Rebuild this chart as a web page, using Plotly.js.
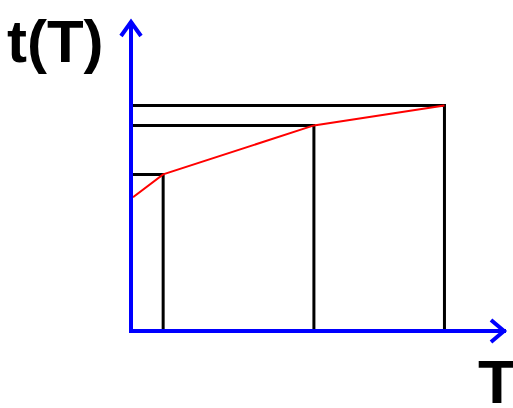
<!DOCTYPE html>
<html>
<head>
<meta charset="utf-8">
<script src="https://cdn.plot.ly/plotly-3.0.1.min.js"></script>
<style>
  html, body { margin: 0; padding: 0; background: #ffffff; }
  #chart { width: 513px; height: 408px; }
</style>
</head>
<body>
<div id="chart"></div>
<script>
// ---- data (arbitrary units) ----
const T_values = [0.97, 5.82, 10.02];     // T positions of the three drop lines
const t_values = [5.02, 6.61, 7.26];      // t(T) at those positions
const T_start = 0;                         // red curve starts on the t axis
const t_start = 4.28;                      // t(T) at T = 0
const axisLabelY = "t(T)";
const axisLabelX = "T";

// ---- figure geometry ----
const W = 513, H = 408;
const M = { l: 133, r: 7, t: 21, b: 79 };
const plotW = W - M.l - M.r, plotH = H - M.t - M.b;
const px = x => (x - M.l) / plotW;      // pixel -> paper x
const py = y => (H - M.b - y) / plotH;  // pixel -> paper y

const traces = [];
// black drop lines: from the t axis across to the point, then down to the T axis
for (let i = 0; i < T_values.length; i++) {
  traces.push({
    type: 'scatter', mode: 'lines',
    x: [0, T_values[i], T_values[i]],
    y: [t_values[i], t_values[i], 0],
    line: { color: '#000000', width: 3 },
    hoverinfo: 'skip', showlegend: false
  });
}
// red curve
traces.push({
  type: 'scatter', mode: 'lines',
  x: [T_start].concat(T_values),
  y: [t_start].concat(t_values),
  line: { color: '#ff0000', width: 2 },
  hoverinfo: 'skip', showlegend: false
});

const chevron = pts => ({
  type: 'path', xref: 'paper', yref: 'paper',
  path: 'M' + pts.map(p => px(p[0]) + ',' + py(p[1])).join(' L'),
  line: { color: '#0000ff', width: 4 },
  layer: 'above'
});

const layout = {
  width: W, height: H,
  margin: M,
  paper_bgcolor: '#ffffff', plot_bgcolor: '#ffffff',
  showlegend: false,
  xaxis: {
    range: [0, 12], showgrid: false, zeroline: false,
    showticklabels: false, ticks: '',
    showline: true, linecolor: '#0000ff', linewidth: 4, fixedrange: true
  },
  yaxis: {
    range: [0, 10], showgrid: false, zeroline: false,
    showticklabels: false, ticks: '',
    showline: true, linecolor: '#0000ff', linewidth: 4, fixedrange: true
  },
  shapes: [
    chevron([[121, 36], [131, 22], [141, 36]]),
    chevron([[491, 320], [504, 331], [491, 342]])
  ],
  annotations: [
    {
      text: axisLabelY, showarrow: false,
      xref: 'paper', yref: 'paper', x: px(55), y: py(41.2),
      xanchor: 'center', yanchor: 'middle',
      font: { family: 'Liberation Sans, Arial, sans-serif', size: 60, color: '#000000', weight: 'bold' }
    },
    {
      text: axisLabelX, showarrow: false,
      xref: 'paper', yref: 'paper', x: px(496.5), y: py(381.5),
      xanchor: 'center', yanchor: 'middle',
      font: { family: 'Liberation Sans, Arial, sans-serif', size: 62, color: '#000000', weight: 'bold' }
    }
  ]
};

Plotly.newPlot('chart', traces, layout, { staticPlot: true, displayModeBar: false });
</script>
</body>
</html>
